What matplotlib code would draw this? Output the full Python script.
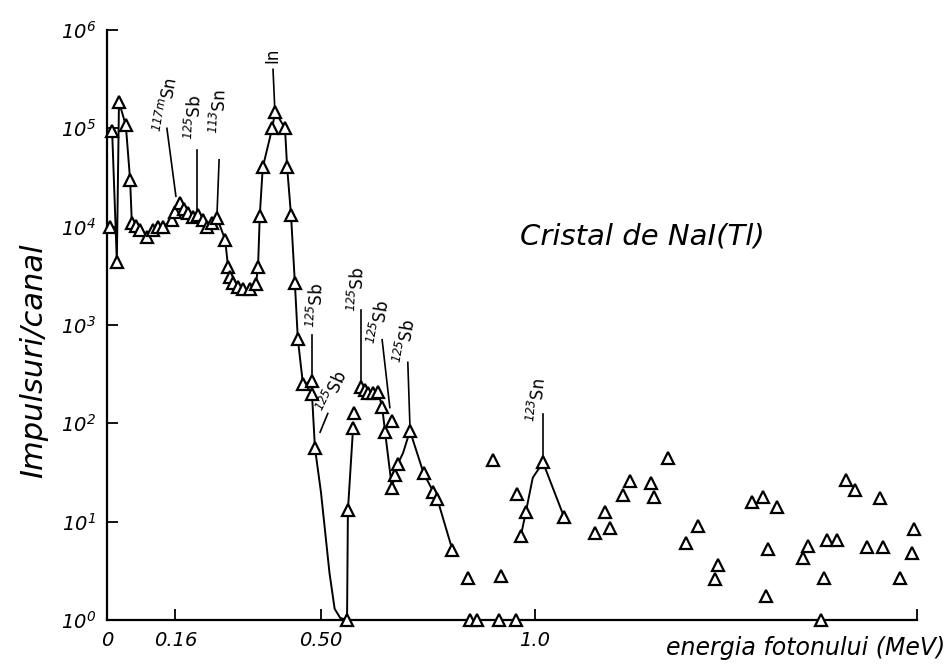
import numpy as np
import matplotlib.pyplot as plt

plt.rcParams["mathtext.fontset"] = "custom"
plt.rcParams["mathtext.rm"] = "DejaVu Sans:italic"
plt.rcParams["mathtext.it"] = "DejaVu Sans:italic"

# main connected spectrum (energy MeV, counts per channel)
main_e = [0.012, 0.023, 0.028, 0.044, 0.054, 0.058, 0.068, 0.077, 0.093, 0.107,
          0.119, 0.131, 0.152, 0.159, 0.171, 0.180, 0.189, 0.201, 0.213, 0.224,
          0.234, 0.245, 0.257, 0.276, 0.283, 0.287, 0.294, 0.306, 0.318, 0.334,
          0.348, 0.353, 0.357, 0.364, 0.386, 0.393, 0.416, 0.421, 0.430, 0.439,
          0.446, 0.458, 0.479, 0.479, 0.486]
main_c = [9.4e4, 4.4e3, 1.86e5, 1.07e5, 3.0e4, 1.1e4, 1.02e4, 9.3e3, 7.9e3, 9.3e3,
          1.0e4, 1.0e4, 1.17e4, 1.4e4, 1.74e4, 1.5e4, 1.38e4, 1.26e4, 1.32e4, 1.17e4,
          1.0e4, 1.1e4, 1.23e4, 7.4e3, 3.9e3, 3.1e3, 2.7e3, 2.45e3, 2.3e3, 2.3e3,
          2.6e3, 3.9e3, 1.29e4, 4.0e4, 1.0e5, 1.48e5, 1.0e5, 4.0e4, 1.32e4, 2.7e3,
          7.2e2, 2.5e2, 2.7e2, 2.0e2, 56]

# drop to zero after the 0.49 MeV region (drawn as a curve in the original)
drop_e = [0.486, 0.500, 0.520, 0.532, 0.545, 0.561]
drop_c = [56, 20, 3.0, 1.3, 1.05, 1.0]

rise_e = [0.561, 0.563, 0.575]
rise_c = [1.0, 13, 89]

sb_e = [0.593, 0.603, 0.610, 0.621, 0.633, 0.643, 0.650, 0.666, 0.673, 0.680,
        0.692, 0.708, 0.740, 0.763, 0.772, 0.807]
sb_c = [234, 219, 204, 204, 209, 148, 81, 22, 30, 39,
        50, 84, 31, 20, 17, 5.2]

sn123_e = [0.967, 0.979, 0.995, 1.019, 1.068]
sn123_c = [7.1, 12.6, 28, 40, 11.2]
sn123_mark = [0, 1, 3, 4]

# isolated points
iso_e = [0.007, 0.577, 0.666, 0.843, 0.921, 0.902, 0.958, 1.140, 1.164, 1.175,
         1.206, 1.222, 1.271, 1.278, 1.311, 1.353, 1.381, 1.428, 1.421, 1.507,
         1.533, 1.565, 1.544, 1.540, 1.638, 1.626, 1.675, 1.682, 1.706, 1.727,
         1.748, 1.776, 1.806, 1.813, 1.853, 1.886, 1.881]
iso_c = [9.9e3, 128, 105, 2.7, 2.8, 42, 19, 7.7, 12.6, 8.6,
         18.7, 26, 25, 18, 44, 6.1, 9.1, 3.6, 2.6, 15.9,
         17.8, 14.1, 5.3, 1.75, 5.6, 4.3, 2.7, 6.5, 6.5, 26.5,
         21, 5.5, 17.4, 5.5, 2.7, 8.5, 4.8]

# zero-count channels plotted on the axis
zero_e = [0.561, 0.848, 0.864, 0.916, 0.956, 1.668]
zero_c = [1, 1, 1, 1, 1, 1]

xtick_vals = [0, 0.16, 0.50, 1.0, 1.893]
xtick_labels = ["0", "0.16", "0.50", "1.0", ""]
ytick_vals = [1, 10, 1e2, 1e3, 1e4, 1e5, 1e6]
ytick_labels = [r"$10^{%d}$" % k for k in range(7)]

# peak labels: text, text position, rotation, pointer start, pointer end
peaks = [
    (r"$^{117m}$Sn", (0.140, 10**5.24), 80, (0.140, 10**5.0), (0.161, 10**4.31)),
    (r"$^{125}$Sb", (0.206, 10**5.11), 88, (0.210, 10**4.78), (0.210, 10**4.15)),
    (r"$^{113}$Sn", (0.264, 10**5.17), 88, (0.262, 10**4.68), (0.257, 10**4.12)),
    ("In", (0.386, 10**5.74), 90, (0.388, 10**5.60), (0.392, 10**5.21)),
    (r"$^{125}$Sb", (0.490, 10**3.20), 88, (0.479, 10**2.90), (0.479, 10**2.46)),
    (r"$^{125}$Sb", (0.528, 10**2.32), 65, (0.516, 10**2.10), (0.498, 10**1.91)),
    (r"$^{125}$Sb", (0.586, 10**3.36), 88, (0.593, 10**3.15), (0.593, 10**2.39)),
    (r"$^{125}$Sb", (0.638, 10**3.03), 80, (0.643, 10**2.85), (0.661, 10**2.16)),
    (r"$^{125}$Sb", (0.698, 10**2.83), 80, (0.703, 10**2.62), (0.708, 10**1.97)),
    (r"$^{123}$Sn", (1.007, 10**2.24), 85, (1.019, 10**2.09), (1.019, 10**1.63)),
]

fig = plt.figure(figsize=(9.48, 6.67), dpi=100)
ax = fig.add_axes([107 / 948, 47 / 667, 810 / 948, 590 / 667])

line_kw = dict(color="black", linewidth=1.4)
mark_kw = dict(linestyle="none", marker="^", markersize=8, markerfacecolor="white",
               markeredgecolor="black", markeredgewidth=1.6, clip_on=False, zorder=5)

ax.plot(main_e, main_c, **line_kw)
ax.plot(drop_e, drop_c, **line_kw)
ax.plot(rise_e, rise_c, **line_kw)
ax.plot(sb_e, sb_c, **line_kw)
ax.plot(sn123_e, sn123_c, **line_kw)

ax.plot(main_e, main_c, **mark_kw)
ax.plot(rise_e[1:], rise_c[1:], **mark_kw)
sb_mark = [0, 1, 2, 3, 4, 5, 6, 7, 8, 9, 11, 12, 13, 14, 15]
ax.plot([sb_e[i] for i in sb_mark], [sb_c[i] for i in sb_mark], **mark_kw)
ax.plot([sn123_e[i] for i in sn123_mark], [sn123_c[i] for i in sn123_mark], **mark_kw)
ax.plot(iso_e, iso_c, **mark_kw)
ax.plot(zero_e, zero_c, **mark_kw)

for label, txy, rot, p0, p1 in peaks:
    ax.text(txy[0], txy[1], label, rotation=rot, ha="center", va="center",
            fontsize=12)
    ax.plot([p0[0], p1[0]], [p0[1], p1[1]], color="black", linewidth=1.2)

ax.set_yscale("log")
ax.set_xlim(0, 1.893)
ax.set_ylim(1, 1e6)
ax.set_xticks(xtick_vals)
ax.set_xticklabels(xtick_labels, fontsize=14, fontstyle="italic")
ax.set_yticks(ytick_vals)
ax.set_yticklabels(ytick_labels, fontsize=14)
ax.minorticks_off()
ax.tick_params(direction="in", length=8, width=1.3, pad=8)
for s in ["top", "right"]:
    ax.spines[s].set_visible(False)
for s in ["left", "bottom"]:
    ax.spines[s].set_linewidth(1.6)

ax.set_ylabel("Impulsuri/canal", fontsize=22, fontstyle="italic")
ax.yaxis.set_label_coords(-0.073, 0.44)
fig.text(642 / 948, 1 - 237 / 667, "Cristal de NaI(Tl)", fontsize=21,
         fontstyle="italic", ha="center", va="center")
fig.text(945 / 948, 1 - 648 / 667, "energia fotonului (MeV)", fontsize=17,
         fontstyle="italic", ha="right", va="center")

fig.savefig("out.png", dpi=100)
